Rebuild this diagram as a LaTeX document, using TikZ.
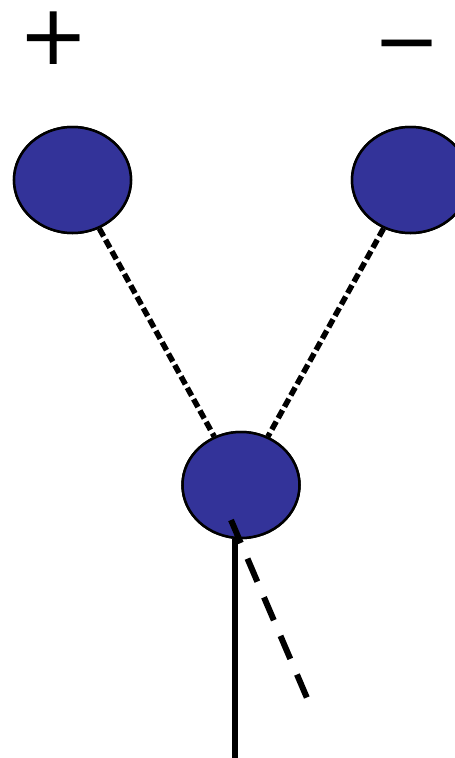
\documentclass[tikz,border=0pt]{standalone}
\usepackage{fontspec}
\newfontfamily\symfont{DejaVu Sans}
\usetikzlibrary{shapes.geometric}
\definecolor{ballblue}{RGB}{51,51,153}
\tikzset{
  ball/.style={ellipse, draw=black, line width=2.5pt, fill=ballblue, minimum width=117pt, minimum height=106pt, inner sep=0pt},
  dotline/.style={line width=5.5pt, dash pattern=on 9pt off 4pt},
  dashline/.style={line width=6pt, dash pattern=on 25pt off 17pt},
  solidline/.style={line width=6pt},
  sign/.style={inner sep=0pt, font=\symfont\fontsize{84}{84}\selectfont}
}
\begin{document}
\begin{tikzpicture}[x=1pt, y=-1pt]
\useasboundingbox (0,0) rectangle (455,758);
\node[sign] (plus) at (54,38) {+};
\node[sign, font=\symfont\fontsize{80}{80}\selectfont] (minus) at (407,54.5) {−};
\node[ball] (L) at (72.5,180) {};
\node[ball] (R) at (410.5,180) {};
\node[ball] (B) at (241,485) {};
\draw[dotline] (L) -- (B);
\draw[dotline] (R) -- (B);
\node[ball] at (L) {};
\node[ball] at (R) {};
\node[ball] at (B) {};
\coordinate (v) at (235,758);
\coordinate (d1) at (231,520);
\coordinate (d2) at (307,698);
\draw[solidline] (B.south -| v) -- (v);
\draw[dashline] (d1) -- (d2);
\end{tikzpicture}
\end{document}
